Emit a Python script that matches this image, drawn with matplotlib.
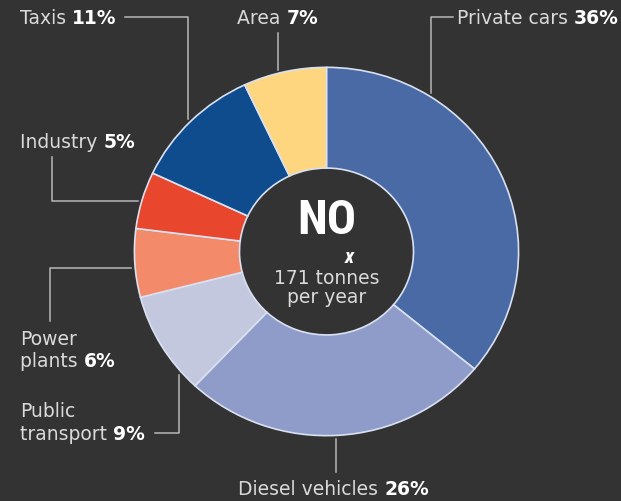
import numpy as np
import matplotlib.pyplot as plt
from matplotlib import font_manager as fm

# NOx sources, clockwise from 12 o'clock
sources = ['Private cars', 'Diesel vehicles', 'Public transport', 'Power plants',
           'Industry', 'Taxis', 'Area']
shares = [36, 26, 9, 6, 5, 11, 7]
colors = ['#4a6aa6', '#8f9cc9', '#c4c8df', '#f38b6b', '#e8462d', '#0e4c8e', '#fdd67f']
total_text = '171 tonnes\nper year'

W, H = 621, 502
bg = '#333333'
txt_col = '#dadada'
line_col = '#b8b8b8'
fam = 'DejaVu Sans'
fs = 13.5

# narrowest bold face we can find for the big "NO"
names = set(f.name for f in fm.fontManager.ttflist)
narrow = 'DejaVu Sans'
for n in ['Liberation Sans Narrow', 'DejaVu Sans Condensed', 'Roboto Condensed',
          'Open Sans Condensed', 'Noto Sans Condensed']:
    if n in names:
        narrow = n
        break

fig = plt.figure(figsize=(W / 100, H / 100), dpi=100, facecolor=bg)

# ring geometry in pixels (the original is slightly stretched sideways)
cx, cy = 326.5, 252.5
rx, ry = 194, 186
hole = 0.453

pax = fig.add_axes([(cx - rx) / W, (H - cy - ry) / H, 2 * rx / W, 2 * ry / H])
wedges, _ = pax.pie(shares, colors=colors, startangle=90, counterclock=False,
                    radius=1, wedgeprops=dict(width=1 - hole, edgecolor='#d9e1f0',
                                              linewidth=1.2))
pax.set_aspect('auto')
pax.set_xlim(-1.01, 1.01)
pax.set_ylim(-1.01, 1.01)
pax.patch.set_alpha(0)

ax = fig.add_axes([0, 0, 1, 1], zorder=3)
ax.set_xlim(0, W)
ax.set_ylim(H, 0)
ax.axis('off')
ax.patch.set_alpha(0)


def anchor(i, frac):
    w = wedges[i]
    a = np.deg2rad(w.theta2 - frac * (w.theta2 - w.theta1))
    return cx + rx * 1.01 * np.cos(a), cy - ry * 1.01 * np.sin(a)


def label(x, y, name, pct):
    t = ax.text(x, y, name + ' ', color=txt_col, fontsize=fs, family=fam,
                ha='left', va='center')
    ax.annotate(pct, xy=(1, 0.5), xycoords=t, va='center', ha='left',
                color='white', fontsize=fs, family=fam, fontweight='bold')
    return t


def pct(i):
    return '%d%%' % shares[i]


# Private cars
px, py = anchor(0, 0.25)
label(457, 18, sources[0], pct(0))
ax.plot([453, px, px], [18, 18, py], color=line_col, lw=1.1)

# Area
px, py = anchor(6, 0.43)
label(237, 18, sources[6], pct(6))
ax.plot([px, px], [34, py], color=line_col, lw=1.1)

# Taxis
px, py = anchor(5, 0.5)
label(20, 18, sources[5], pct(5))
ax.plot([125, px, px], [18, 18, py], color=line_col, lw=1.1)

# Industry
px, py = anchor(4, 0.46)
label(20, 143, sources[4], pct(4))
ax.plot([52, 52, px], [158, py, py], color=line_col, lw=1.1)

# Power plants
px, py = anchor(3, 0.44)
ax.text(20, 340, 'Power', color=txt_col, fontsize=fs, family=fam, va='center')
label(20, 362, 'plants', pct(3))
ax.plot([50, 50, px], [322, py, py], color=line_col, lw=1.1)

# Public transport
px, py = anchor(2, 0.18)
ax.text(20, 412, 'Public', color=txt_col, fontsize=fs, family=fam, va='center')
label(20, 435, 'transport', pct(2))
ax.plot([155, px, px], [434, 434, py], color=line_col, lw=1.1)

# Diesel vehicles
px, py = anchor(1, 0.51)
label(238, 490, sources[1], pct(1))
ax.plot([px, px], [py, 473], color=line_col, lw=1.1)

# centre text
ax.text(cx, 221, 'NO', color='white', fontsize=35, fontweight='bold',
        fontstretch='condensed', family=[narrow, 'DejaVu Sans'],
        ha='center', va='center')
ax.text(349, 258, 'x', color='white', fontsize=15, fontweight='bold', style='italic',
        family=[narrow, 'DejaVu Sans'], ha='center', va='center')
ax.text(cx, 288, total_text, color=txt_col, fontsize=fs, family=fam,
        ha='center', va='center', linespacing=1.0)

fig.savefig('out.png', dpi=100, facecolor=bg)
